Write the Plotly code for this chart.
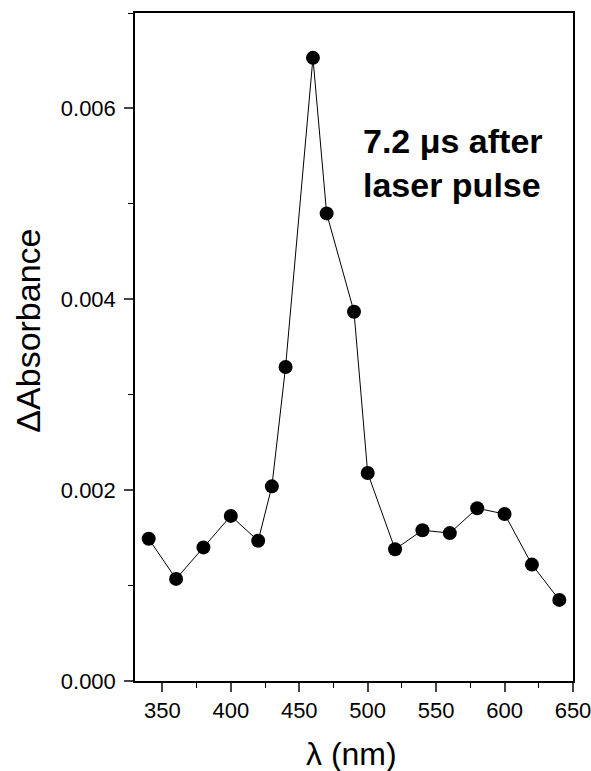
import plotly.graph_objects as go

wavelength = [340, 360, 380, 400, 420, 430, 440, 460, 470, 490, 500,
              520, 540, 560, 580, 600, 620, 640]
d_absorbance = [0.00149, 0.00107, 0.00140, 0.00173, 0.00147, 0.00204, 0.00329,
                0.00653, 0.00490, 0.00387, 0.00218, 0.00138, 0.00158, 0.00155,
                0.00181, 0.00175, 0.00122, 0.00085]

x_ticks = [350, 400, 450, 500, 550, 600, 650]
y_ticks = [0.000, 0.002, 0.004, 0.006]
y_tick_labels = ["0.000", "0.002", "0.004", "0.006"]

FONT = "Liberation Sans, Arial, sans-serif"

fig = go.Figure()
fig.add_trace(go.Scatter(
    x=wavelength, y=d_absorbance, mode="lines+markers",
    line=dict(color="black", width=1),
    marker=dict(color="black", size=14),
    showlegend=False, cliponaxis=False,
))

fig.update_layout(
    width=591, height=771,
    margin=dict(l=135, r=18, t=13, b=90, autoexpand=False),
    paper_bgcolor="white", plot_bgcolor="white",
    font=dict(family=FONT, color="black", size=22),
    xaxis=dict(
        range=[330, 650], tickvals=x_ticks, ticks="outside", ticklen=9,
        tickwidth=1.5, linecolor="black", linewidth=1.5, mirror=True,
        showgrid=False, zeroline=False, tickfont=dict(size=22),
        ticklabeloverflow="allow", automargin=False,
        minor=dict(dtick=25, ticks="outside", ticklen=5, tickwidth=1.2, tickcolor="black"),
    ),
    yaxis=dict(
        range=[0, 0.007], tickvals=y_ticks, ticktext=y_tick_labels,
        ticks="outside", ticklen=9, tickwidth=1.5,
        linecolor="black", linewidth=1.5, mirror=True,
        showgrid=False, zeroline=False, tickfont=dict(size=22), automargin=False,
        ticklabelstandoff=4,
        minor=dict(dtick=0.001, ticks="outside", ticklen=5, tickwidth=1.2, tickcolor="black"),
    ),
    annotations=[
        dict(text="ΔAbsorbance", xref="paper", yref="paper", x=-0.245, y=0.524,
             xanchor="center", yanchor="middle", textangle=-90, showarrow=False,
             font=dict(size=34, family=FONT)),
        dict(text="λ (nm)", xref="paper", yref="paper", x=0.495, y=-0.11,
             xanchor="center", yanchor="middle", showarrow=False,
             font=dict(size=32, family=FONT)),
        dict(text="<b>7.2 μs after<br>laser pulse</b>", xref="paper", yref="paper",
             x=0.515, y=0.775, xanchor="left", yanchor="middle", align="left",
             showarrow=False, font=dict(size=34, family=FONT)),
    ],
)

fig.write_html("out.html")
